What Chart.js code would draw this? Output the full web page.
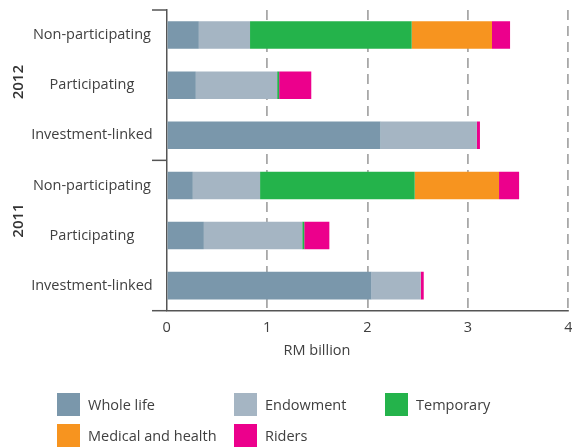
<!DOCTYPE html>
<html>
<head>
<meta charset="utf-8">
<script src="https://cdn.jsdelivr.net/npm/chart.js@4"></script>
<style>
    html, body { margin: 0; padding: 0; background: #fff; }
    #wrap { position: relative; width: 572px; height: 447px; }
    #legend {
        position: absolute; left: 57px; top: 393px;
        display: grid; grid-template-columns: 177px 151px 150px; row-gap: 8px;
        font-family: 'Open Sans', sans-serif; font-size: 14.5px; color: #404040;
    }
    .item { display: flex; align-items: center; height: 23px; }
    .box { width: 23px; height: 23px; margin-right: 8px; }
</style>
</head>
<body>
<div id="wrap">
    <canvas id="premiumChart" width="572" height="447"></canvas>
    <div id="legend"></div>
</div>
<script>
const categories = ['Non-participating', 'Participating', 'Investment-linked',
                    'Non-participating', 'Participating', 'Investment-linked'];
const years = ['2012', '2011'];
const xTicks = [0, 1, 2, 3, 4];

const wholeLife = [0.32, 0.29, 2.13, 0.26, 0.37, 2.04];
const endowment = [0.51, 0.81, 0.96, 0.67, 0.98, 0.49];
const temporary = [1.61, 0.02, 0, 1.54, 0.02, 0];
const medical = [0.80, 0, 0, 0.84, 0, 0];
const riders = [0.18, 0.32, 0.03, 0.20, 0.25, 0.03];

const FONT = "'Open Sans', sans-serif";
const TEXT = '#404040';

// year labels, bracket ticks and axis title
const decorations = {
    id: 'decorations',
    afterDraw(chart) {
        const { ctx, chartArea } = chart;
        const y = chart.scales.y;
        ctx.save();
        ctx.strokeStyle = '#555';
        ctx.lineWidth = 1.5;
        const mid = (y.getPixelForValue(2) + y.getPixelForValue(3)) / 2;
        [chartArea.top, mid, chartArea.bottom].forEach(py => {
            ctx.beginPath();
            ctx.moveTo(152, py);
            ctx.lineTo(chartArea.left, py);
            ctx.stroke();
        });

        ctx.fillStyle = '#333';
        ctx.font = '600 15px ' + FONT;
        ctx.textAlign = 'center';
        ctx.textBaseline = 'middle';
        const yearY = [y.getPixelForValue(1) - 3, y.getPixelForValue(4) - 15];
        years.forEach((yr, i) => {
            ctx.save();
            ctx.translate(19, yearY[i]);
            ctx.rotate(-Math.PI / 2);
            ctx.fillText(yr, 0, 0);
            ctx.restore();
        });

        ctx.fillStyle = TEXT;
        ctx.font = '14.5px ' + FONT;
        ctx.fillText('RM billion', 317, 351);
        ctx.restore();
    }
};

const ctx = document.getElementById('premiumChart').getContext('2d');
const chart = new Chart(ctx, {
    type: 'bar',
    data: {
        labels: categories,
        datasets: [
            { label: 'Whole life', data: wholeLife, backgroundColor: '#7a97ab' },
            { label: 'Endowment', data: endowment, backgroundColor: '#a5b5c3' },
            { label: 'Temporary', data: temporary, backgroundColor: '#24b34b' },
            { label: 'Medical and health', data: medical, backgroundColor: '#f7941f' },
            { label: 'Riders', data: riders, backgroundColor: '#ec008c' }
        ]
    },
    options: {
        indexAxis: 'y',
        responsive: false,
        animation: false,
        layout: { padding: { left: 0, top: 10, right: 3.7, bottom: 106.3 } },
        datasets: { bar: { categoryPercentage: 1, barPercentage: 0.55, borderWidth: 0 } },
        plugins: {
            legend: { display: false },
            tooltip: { enabled: false }
        },
        scales: {
            x: {
                stacked: true,
                min: 0,
                max: 4,
                afterBuildTicks: scale => { scale.ticks = xTicks.map(v => ({ value: v })); },
                afterFit: scale => { scale.height = 30; scale.paddingLeft = 0; scale.paddingRight = 0; },
                grid: {
                    drawTicks: false,
                    lineWidth: 1.8,
                    color: c => (c.tick && c.tick.value === 0) ? 'rgba(0,0,0,0)' : '#a8a8a8'
                },
                border: { display: true, color: '#555', width: 1.5, dash: [10, 6] },
                ticks: { padding: 8, color: TEXT, font: { family: FONT, size: 14.5 } }
            },
            y: {
                stacked: true,
                afterFit: scale => { scale.width = 166.7; scale.paddingTop = 0; scale.paddingBottom = 0; },
                grid: { display: false, drawTicks: false },
                border: { display: true, color: '#555', width: 1.5 },
                ticks: { crossAlign: 'center', padding: 14, color: TEXT, font: { family: FONT, size: 14.5 } }
            }
        }
    },
    plugins: [decorations]
});

// HTML legend built from the chart's datasets
const legendEl = document.getElementById('legend');
chart.data.datasets.forEach(ds => {
    const item = document.createElement('div');
    item.className = 'item';
    item.innerHTML = '<span class="box" style="background:' + ds.backgroundColor + '"></span>' + ds.label;
    legendEl.appendChild(item);
});
</script>
</body>
</html>
